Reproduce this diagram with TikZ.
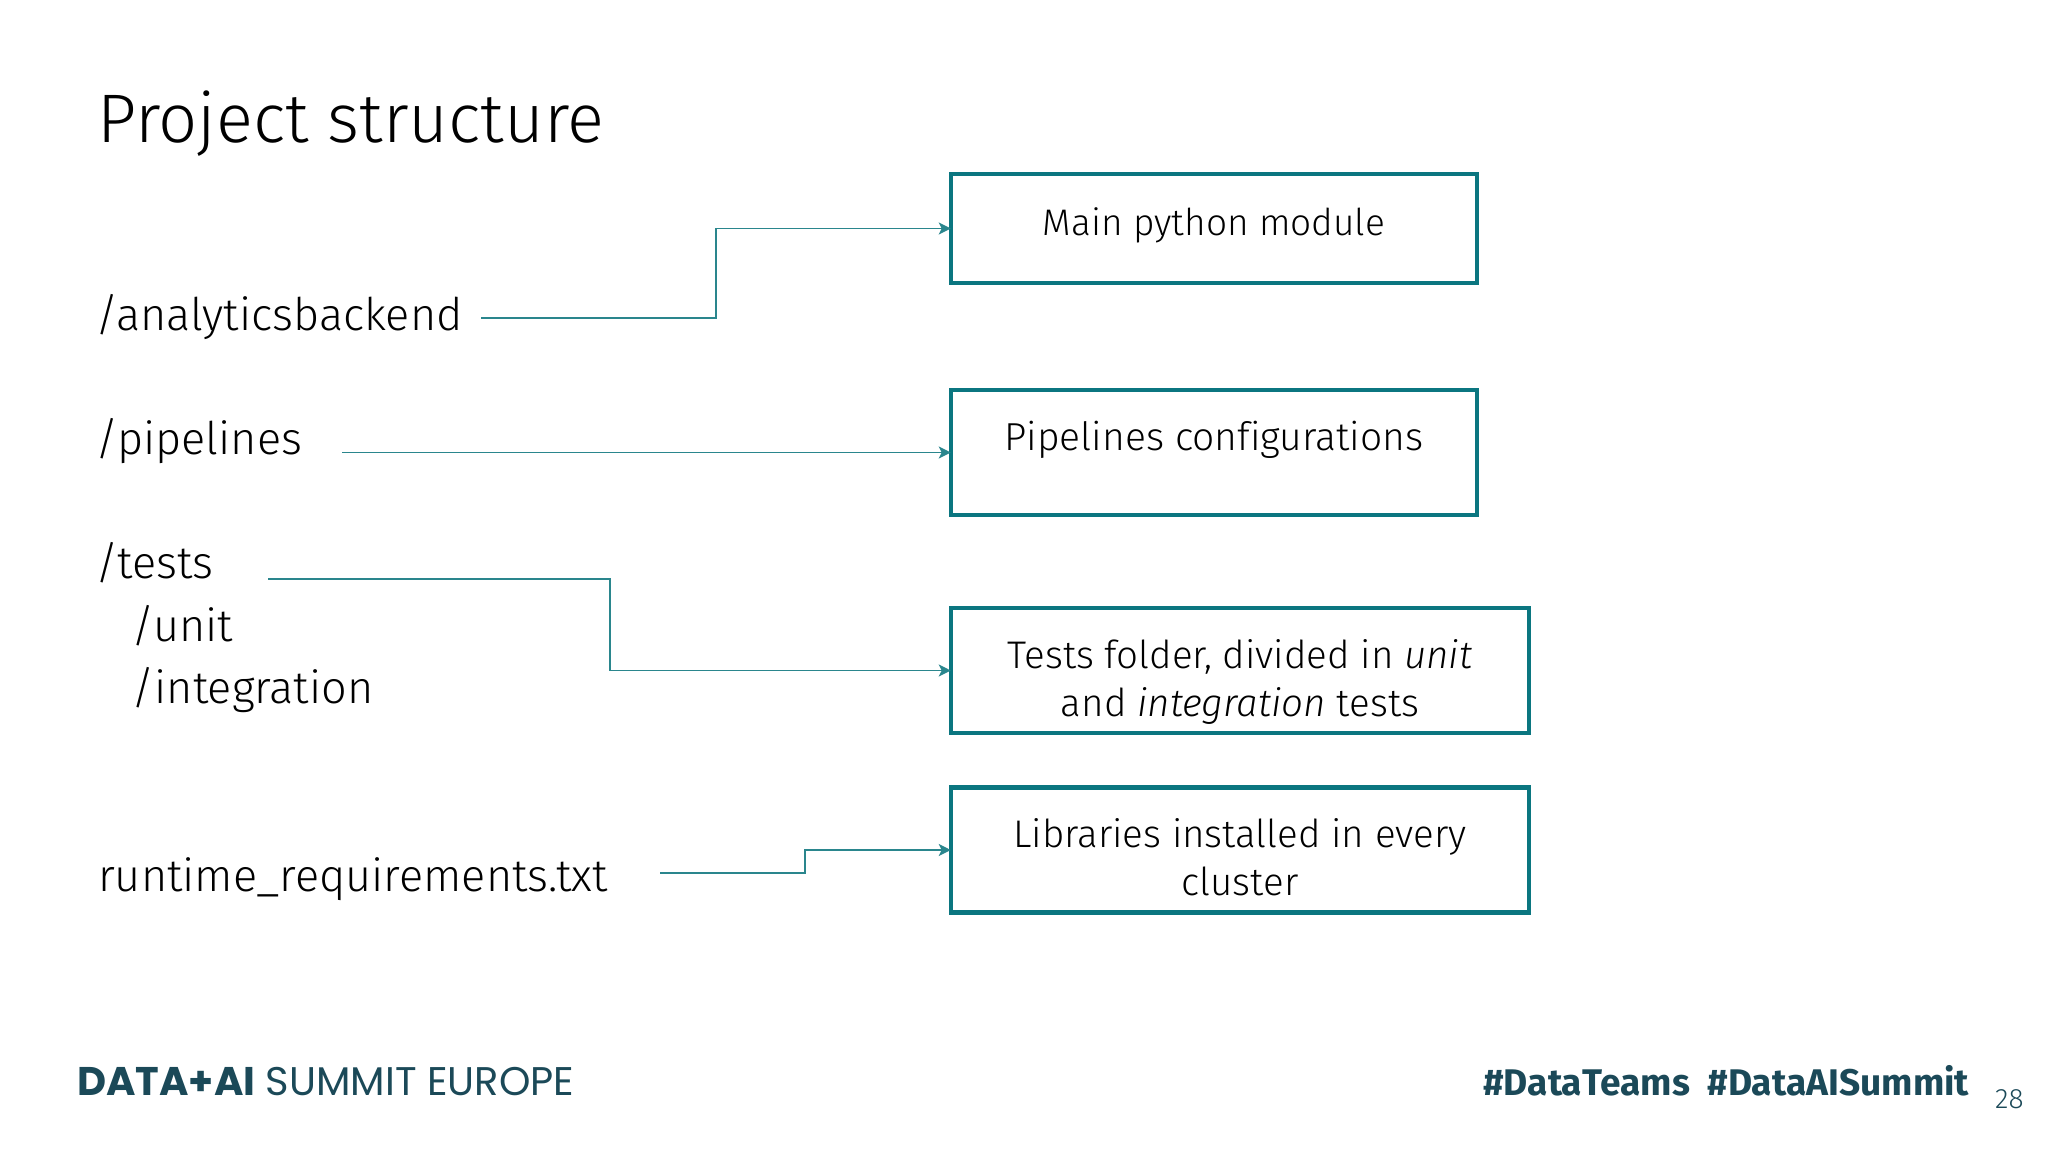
\documentclass[tikz,border=0pt]{standalone}
\usepackage{fontspec}
\usetikzlibrary{positioning,arrows.meta}
\setmainfont{Fira Sans Light}[Ligatures=CommonOff,ItalicFont={Fira Sans Light Italic},BoldFont={Fira Sans Bold}]
\newfontfamily\summitfont{Poppins}
\definecolor{boxcolor}{HTML}{0B7680}
\definecolor{linkcolor}{HTML}{2A868D}
\definecolor{footcolor}{HTML}{1B4958}

\begin{document}
\begin{tikzpicture}[x = 1pt, y = -1pt, on grid,
                    leaf/.style = {anchor = base west,
                                   inner sep = 0pt,
                                   font = \fontsize{45}{52}\selectfont},
                    note/.style = {draw = boxcolor,
                                   line width = 4.5pt,
                                   inner sep = 0pt,
                                   align = center,
                                   font = \fontsize{38.5}{48}\selectfont},
                    link/.style = {-{Stealth[length = 12pt, width = 12pt, inset = 3pt]},
                                   shorten > = -2pt,
                                   linkcolor,
                                   line width = 1.8pt},
                    foot/.style = {anchor = base west,
                                   inner sep = 0pt,
                                   footcolor}]

\useasboundingbox (0, 0) rectangle (2048, 1152);

\node[anchor = base west, inner sep = 0pt, font = \fontsize{68.7}{80}\selectfont] (title) at (97, 142) {Project structure};

\node[leaf] (backend) at (95, 330) {/analyticsbackend};
\node[leaf] (pipelines) [below = 124pt of backend.base west, anchor = base west] {/pipelines};
\node[leaf] (tests) [below = 124.5pt of pipelines.base west, anchor = base west] {/tests};
\node[leaf] (unit) [below right = 62.5pt and 36pt of tests.base west, anchor = base west] {/unit};
\node[leaf] (integration) [below = 62.5pt of unit.base west, anchor = base west] {/integration};
\node[leaf] (runtime) [below = 313pt of tests.base west, anchor = base west, xshift = 3pt] {runtime\_requirements.txt};

\node[note, minimum width = 526pt, minimum height = 109pt] (mainbox) at (1214, 228.5) {\raisebox{13pt}{\fontsize{37}{48}\selectfont Main python module}};
\node[note, minimum width = 526pt, minimum height = 125pt] (pipebox) [below = 224pt of mainbox] {\raisebox{33pt}{\fontsize{39}{48}\selectfont Pipelines configurations}};
\node[note, minimum width = 578pt, minimum height = 125pt] (testbox) at (1240, 670.5) {\rule{0pt}{52pt}Tests folder, divided in \textit{unit}\\and \textit{integration} tests};
\node[note, minimum width = 578pt, minimum height = 125pt] (libbox) [below = 179.5pt of testbox] {\rule{0pt}{44pt}Libraries installed in every\\cluster};

\coordinate (backendend) at (481, 318);
\coordinate (pipesend) at (342, 452.5);
\coordinate (testsend) at (268, 579);
\coordinate (runtimeend) at (660, 873);

\draw[link] (backendend) -- (716, 318) |- (mainbox.west);
\draw[link] (pipesend) -- (pipebox.west);
\draw[link] (testsend) -- (610, 579) |- (testbox.west);
\draw[link] (runtimeend) -- (805, 873) |- (libbox.west);

\node[foot, font = \fontsize{40}{48}\summitfont] (summit) at (77, 1095) {\textbf{DATA+AI} SUMMIT EUROPE};
\node[foot, font = \fontsize{37.1}{48}\selectfont\bfseries] (tags) at (1483, 1095) {\#DataTeams\ \ \#DataAISummit};
\node[foot, font = \fontsize{28}{32}\selectfont] (page) at (1995, 1108) {28};

\end{tikzpicture}
\end{document}
